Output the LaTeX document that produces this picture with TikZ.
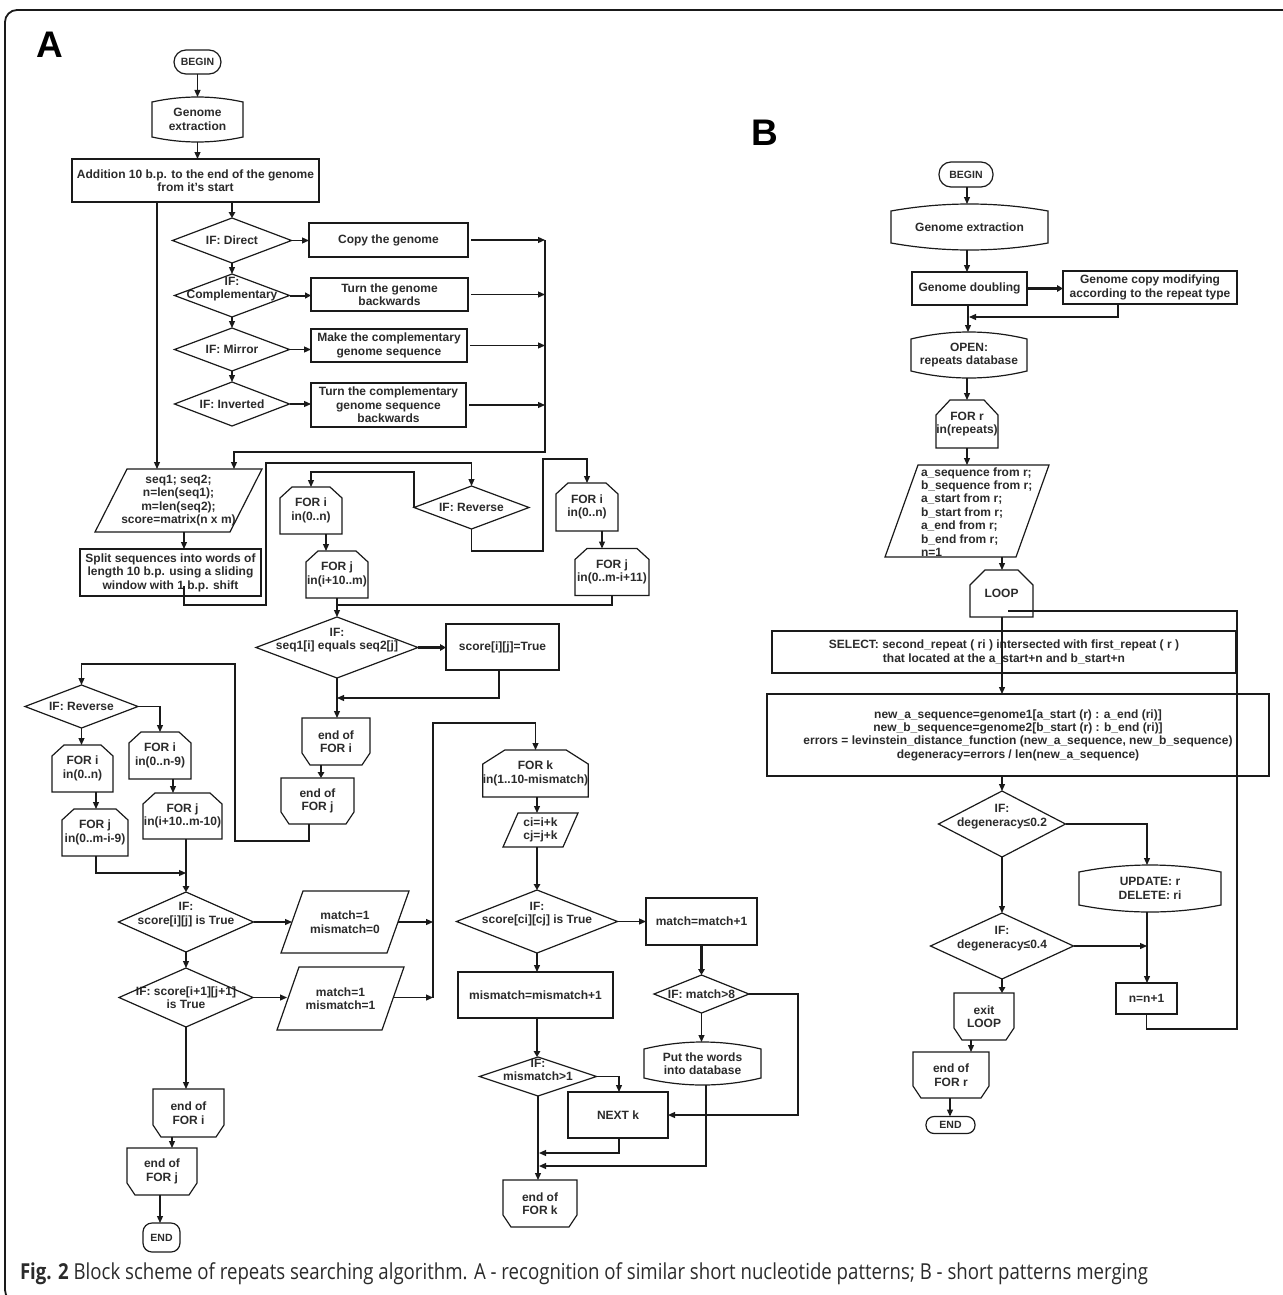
\documentclass[tikz,border=0pt]{standalone}
\usepackage{fontspec}
\setmainfont{Liberation Sans}
\newfontfamily\capfont{Open Sans}
\usepackage{graphicx}
\usetikzlibrary{arrows.meta,calc}
\definecolor{txt}{HTML}{2B2B2B}
\definecolor{lnc}{HTML}{1A1A1A}
\newcommand\shpDia[1]{\draw[shp] (#1.west) -- (#1.north) -- (#1.east) -- (#1.south) -- cycle;}
\newcommand\shpPara[2]{\draw[shp] (#1.south west) -- ([xshift=#2pt]#1.north west) -- (#1.north east) -- ([xshift=-#2pt]#1.south east) -- cycle;}
\newcommand\shpLoopT[3]{\draw[shp] (#1.south west) -- ([yshift=-#3pt]#1.north west) -- ([xshift=#2pt]#1.north west) -- ([xshift=-#2pt]#1.north east) -- ([yshift=-#3pt]#1.north east) -- (#1.south east) -- cycle;}
\newcommand\shpLoopB[3]{\draw[shp] (#1.north west) -- ([yshift=#3pt]#1.south west) -- ([xshift=#2pt]#1.south west) -- ([xshift=-#2pt]#1.south east) -- ([yshift=#3pt]#1.south east) -- (#1.north east) -- cycle;}
\newcommand\shpDisp[2]{\draw[shp] ([yshift=-#2pt]#1.north west) .. controls ($(#1.north west)!1/3!(#1.north east)+(0,#2/3)$) and ($(#1.north west)!2/3!(#1.north east)+(0,#2/3)$) .. ([yshift=-#2pt]#1.north east) -- ([yshift=#2pt]#1.south east) .. controls ($(#1.south west)!2/3!(#1.south east)+(0,-#2/3)$) and ($(#1.south west)!1/3!(#1.south east)+(0,-#2/3)$) .. ([yshift=#2pt]#1.south west) -- cycle;}
\begin{document}
\begin{tikzpicture}[x=1pt,y=1pt,
  every node/.style={inner sep=0pt, outer sep=0pt, text=txt, align=center, font=\fontsize{12}{13.5}\selectfont\bfseries},
  shp/.style={draw=lnc, line width=1.2pt, line join=miter},
  ln/.style={draw=lnc, line width=1.2pt},
  ar/.style={ln, -{Triangle[length=7pt,width=6pt]}},
  tar/.style={draw=lnc, line width=2.4pt, -{Triangle[length=6pt,width=6.5pt]}},
  rbox/.style={draw=lnc, line width=1.2pt},
  pill/.style={draw=lnc, line width=1.2pt, rounded corners=#1pt, font=\fontsize{10.5}{12}\selectfont\bfseries},
  sz/.style 2 args={minimum width=#1pt, minimum height=#2pt},
  liftx/.style={text depth=#1pt},
  big/.style={font=\fontsize{37}{37}\selectfont\bfseries, text=black}]
\useasboundingbox (0,0) rectangle (1282,-1295);
\fill[white] (0,0) rectangle (1282,-1295);
\draw[draw=lnc, line width=1.8pt, rounded corners=12pt] (1290,-10) -- (5,-10) -- (5,-1302) -- (40,-1302);

% ---------------- Panel A ----------------
\node[big] (lblA) at (50,-45) {A};
\node[pill=12, sz={47}{24}] (beginA) at (197.5,-62) {BEGIN};
\node[sz={91}{45}] (genA) at (197.5,-119.5) {Genome\\extraction};
\node[rbox, sz={247}{43}] (add) at (195.5,-180.5) {Addition 10 b.p. to the end of the genome\\from it's start};
\node[sz={119}{45}] (ifD) at (232,-240.5) {IF: Direct};
\node[rbox, sz={159}{34}] (copy) at (388.5,-240) {Copy the genome};
\node[sz={115}{43}, liftx=15] (ifC) at (232,-295.5) {IF:\\Complementary};
\node[rbox, sz={157}{33}] (turn) at (389.5,-294.5) {Turn the genome\\backwards};
\node[sz={115}{43}] (ifM) at (232,-349.5) {IF: Mirror};
\node[rbox, sz={156}{33}] (make) at (389,-345.5) {Make the complementary\\genome sequence};
\node[sz={115}{44}] (ifI) at (232,-404) {IF: Inverted};
\node[rbox, sz={155}{44}] (turnc) at (388.5,-405) {Turn the complementary\\genome sequence\\backwards};
\coordinate (col) at (545,-452);

\node[sz={167}{63}] (seq) at (178.5,-500.5) {seq1; seq2;\\n=len(seq1);\\m=len(seq2);\\score=matrix(n x m)};
\node[rbox, sz={181}{47}] (split) at (170.5,-572.5) {Split sequences into words of\\length 10 b.p. using a sliding\\window with 1 b.p. shift};
\coordinate (s1) at (184,-586);

\node[sz={115}{43}] (ifRT) at (471.5,-507.5) {IF: Reverse};
\node[sz={62}{47}] (fi1) at (311,-510.5) {FOR i\\in(0..n)};
\node[sz={62}{47}] (fj1) at (337,-574.5) {FOR j\\in(i+10..m)};
\node[sz={62}{48}] (fi2) at (587,-507) {FOR i\\in(0..n)};
\node[sz={74}{47}] (fj2) at (612,-572) {FOR j\\in(0..m-i+11)};

\node[sz={162}{61}, liftx=17] (ifS) at (337,-647.5) {IF:\\seq1[i] equals seq2[j]};
\node[rbox, sz={113}{46}] (scT) at (502.5,-647) {score[i][j]=True};
\node[sz={68}{47}] (efi1) at (336,-741.5) {end of\\FOR i};
\node[sz={73}{46}] (efj1) at (317.5,-801) {end of\\FOR j};

\node[sz={113}{43}] (ifRL) at (81.5,-706.5) {IF: Reverse};
\node[sz={61}{47}] (fiL) at (82.5,-768.5) {FOR i\\in(0..n)};
\node[sz={66}{47}] (fjL) at (95,-832.5) {FOR j\\in(0..m-i-9)};
\node[sz={62}{47}] (fiM) at (160,-755.5) {FOR i\\in(0..n-9)};
\node[sz={79}{46}] (fjM) at (182.5,-816) {FOR j\\in(i+10..m-10)};

\node[sz={135}{60}, liftx=17] (ifSc1) at (186,-922) {IF:\\score[i][j] is True};
\node[sz={128}{62}] (m10) at (345,-922) {match=1\\mismatch=0};
\node[sz={134}{59}] (ifSc2) at (186,-997.5) {IF: score[i+1][j+1]\\is True};
\node[sz={127}{63}] (m11) at (340.5,-998.5) {match=1\\mismatch=1};
\node[sz={71}{48}] (efi2) at (188.5,-1113) {end of\\FOR i};
\node[sz={70}{47}] (efj2) at (162,-1171.5) {end of\\FOR j};
\node[pill=9, sz={37}{29}] (endA) at (161.5,-1237.5) {END};

\node[sz={103}{47}] (fk) at (535.5,-773.5) {FOR k\\in(1..10-mismatch)};
\node[sz={75}{34}] (cc) at (540.5,-830) {ci=i+k\\cj=j+k};
\node[sz={161}{63}, liftx=17] (ifCi) at (537,-921.5) {IF:\\score[ci][cj] is True};
\node[rbox, sz={111}{47}] (mp) at (701.5,-921.5) {match=match+1};
\node[rbox, sz={155}{46}] (mm) at (535.5,-995) {mismatch=mismatch+1};
\node[sz={95}{38}] (if8) at (701.5,-994) {IF: match>8};
\node[sz={117}{39}, liftx=13] (ifm1) at (538,-1076.5) {IF:\\mismatch>1};
\node[rbox, sz={100}{46}] (nk) at (618,-1115) {NEXT k};
\node[sz={117}{43}] (put) at (702.5,-1063.5) {Put the words\\into database};
\node[sz={74}{47}] (efk) at (540,-1203.5) {end of\\FOR k};

% ---------------- Panel B ----------------
\node[big] (lblB) at (765,-133) {B};
\node[pill=12, sz={54}{25}] (bB) at (966,-174.5) {BEGIN};
\node[sz={157}{46}] (gB) at (969.5,-227) {Genome extraction};
\node[rbox, sz={115}{33}] (dbl) at (969.5,-288.5) {Genome doubling};
\node[rbox, sz={174}{33}] (gc) at (1150,-287.5) {Genome copy modifying\\according to the repeat type};
\node[sz={116}{46}] (odb) at (969,-355) {OPEN:\\repeats database};
\node[sz={62}{48}] (fr) at (967,-424) {FOR r\\in(repeats)};
\node[sz={164}{92}] (pB) at (967,-511) {};
\node[align=left, anchor=west, font=\fontsize{12}{13.4}\selectfont\bfseries] (pBt) at (921,-512) {a\_sequence from r;\\b\_sequence from r;\\a\_start from r;\\b\_start from r;\\a\_end from r;\\b\_end from r;\\n=1};
\node[sz={63}{47}] (lp) at (1001.5,-593.5) {LOOP};
\node[rbox, sz={464}{42}] (sel) at (1004,-652) {SELECT: second\_repeat ( ri ) intersected with first\_repeat ( r )\\that located at the a\_start+n and b\_start+n};
\node[rbox, sz={502}{82}, font=\fontsize{12}{13.3}\selectfont\bfseries] (bigb) at (1018,-735) {new\_a\_sequence=genome1[a\_start (r) : a\_end (ri)]\\new\_b\_sequence=genome2[b\_start (r) : b\_end (ri)]\\errors = levinstein\_distance\_function (new\_a\_sequence, new\_b\_sequence)\\degeneracy=errors / len(new\_a\_sequence)};
\node[sz={127}{66}, liftx=17] (d2) at (1002,-824) {IF:\\degeneracy≤0.2};
\node[sz={142}{47}] (upd) at (1150,-888.5) {UPDATE: r\\DELETE: ri};
\node[sz={143}{66}, liftx=17] (d4) at (1002,-946) {IF:\\degeneracy≤0.4};
\node[rbox, sz={61}{31}] (nn) at (1146.5,-998.5) {n=n+1};
\node[sz={60}{47}] (ex) at (984,-1016.5) {exit\\LOOP};
\node[sz={76}{46}] (efr) at (951,-1075) {end of\\FOR r};
\node[pill=8, sz={49}{17}] (endB) at (950.5,-1125) {END};
\coordinate (lpin) at (1008,-611);

% caption
\node[anchor=base west, font=\capfont\fontsize{22}{26}\selectfont] (cap) at (20,-1279) {\resizebox{1128pt}{\height}{\textbf{Fig. 2} Block scheme of repeats searching algorithm. A - recognition of similar short nucleotide patterns; B - short patterns merging}};

% ---------------- outlines ----------------
\foreach \n in {ifD,ifC,ifM,ifI,ifRT,ifS,ifRL,ifSc1,ifSc2,ifCi,if8,ifm1,d2,d4} {\shpDia{\n}}
\foreach \n in {fi1,fj1,fi2,fj2,fiL,fjL,fiM,fjM} {\shpLoopT{\n}{12}{11}}
\shpLoopT{fk}{22}{14}
\shpLoopT{fr}{14}{15}
\shpLoopT{lp}{15}{15}
\foreach \n in {efi1,efj1,efi2,efj2,efk,ex,efr} {\shpLoopB{\n}{8}{12}}
\shpPara{seq}{32}
\shpPara{m10}{22}
\shpPara{m11}{22}
\shpPara{cc}{15}
\shpPara{pB}{33}
\shpDisp{genA}{5}
\shpDisp{gB}{7}
\shpDisp{odb}{7}
\shpDisp{upd}{7}
\shpDisp{put}{7}

% ---------------- connectors A ----------------
\draw[ar] (beginA.south) -- (genA.north);
\draw[ar] (genA.south) -- (genA.south |- add.north);
\draw[tar] (ifD.north |- add.south) -- (ifD.north);
\draw[ar] (ifD.south) -- (ifC.north);
\draw[ar] (ifC.south) -- (ifM.north);
\draw[ar] (ifM.south) -- (ifI.north);
\draw[ar] (ifD.east) -- (ifD.east -| copy.west);
\draw[draw=lnc, line width=2pt, -{Triangle[length=6pt,width=6pt]}] (ifC.east) -- (ifC.east -| turn.west);
\draw[ar] (ifM.east) -- (ifM.east -| make.west);
\draw[ar] (ifI.east) -- (ifI.east -| turnc.west);
\draw[ar] ([xshift=3pt]copy.east) -- (copy.east -| col);
\draw[ar] ([xshift=3pt]turn.east) -- (turn.east -| col);
\draw[ar] ([xshift=3pt]make.east) -- (make.east -| col);
\draw[ar] ([xshift=3pt]turnc.east) -- (turnc.east -| col);
\draw[ar] (col |- copy.east) -- (col) -| ([xshift=55.5pt]seq.north);
\draw[ar] ([xshift=-38.5pt]add.south) -- ([xshift=-38.5pt]add.south |- seq.north);
\draw[ar] ([xshift=5.5pt]seq.south) -- ([xshift=5.5pt]seq.south |- split.north);
\draw[ar] (s1) -- (184,-605) -- (266,-605) -- (266,-463) -- (ifRT.north |- 0,-463) -- (ifRT.north);
\draw[ar] (ifRT.west) -- (ifRT.west |- 0,-472) -- (fi1.north |- 0,-472) -- (fi1.north);
\draw[ar] (fi1.south -| 326,0) -- (fj1.north -| 326,0);
\draw[ar] (ifRT.south) -- (ifRT.south |- 0,-551) -- (543,-551) -- (543,-459) -- (fi2.north |- 0,-459) -- (fi2.north);
\draw[ar] (fi2.south -| 602,0) -- (fj2.north -| 602,0);
\draw[ln] (fj2.south) -- (fj2.south |- 0,-605) -- (fj1.south |- 0,-605);
\draw[ar] (fj1.south) -- (ifS.north);
\draw[tar] (ifS.east) -- (ifS.east -| scT.west);
\draw[ar] (scT.south -| 499,0) -- (499,-698) -- (ifS.south |- 0,-698);
\draw[ar] (ifS.south) -- (ifS.south |- efi1.north);
\draw[tar] (efi1.south -| 321,0) -- (efj1.north -| 321,0);
\draw[ar] (efj1.south -| 309,0) -- (309,-841) -- (235,-841) -- (235,-664) -- (ifRL.north |- 0,-664) -- (ifRL.north);
\draw[ar] (ifRL.south) -- (ifRL.south |- fiL.north);
\draw[ar] (fiL.south -| 96,0) -- (fjL.north -| 96,0);
\draw[ar] (ifRL.east) -- (fiM.north |- ifRL.east) -- (fiM.north);
\draw[ar] (fiM.south -| 173,0) -- (fjM.north -| 173,0);
\draw[tar] (fjM.south -| 186,0) -- (ifSc1.north);
\draw[ar] (fjL.south -| 96,0) -- (96,-873) -- (186,-873);
\draw[ar] (ifSc1.east) -- ([xshift=11pt]m10.west);
\draw[ar] ([xshift=-11pt]m10.east) -- (433,-922);
\draw[ar] (ifSc1.south) -- (ifSc2.north);
\draw[ar] (ifSc2.east) -- ([xshift=10pt]m11.west |- ifSc2.east);
\draw[ar] ([xshift=-10pt]m11.east |- ifSc2.east) -- (433,-997.5);
\draw[ar] (433,-997.5) -- (433,-723) -- (fk.north |- 0,-723) -- (fk.north);
\draw[ar] (ifSc2.south) -- (ifSc2.south |- efi2.north);
\draw[ar] (efi2.south -| 172,0) -- (efj2.north -| 172,0);
\draw[ar] (efj2.south -| 160,0) -- (endA.north -| 160,0);

\draw[ar] (fk.south -| 537,0) -- (cc.north -| 537,0);
\draw[tar] (cc.south -| 537,0) -- (ifCi.north);
\draw[ar] (ifCi.east) -- (ifCi.east -| mp.west);
\draw[ar] (ifCi.south) -- (ifCi.south |- mm.north);
\draw[tar] (mp.south) -- (if8.north);
\draw[tar] (mm.south -| 537,0) -- (ifm1.north -| 537,0);
\draw[ar] (ifm1.east) -- (619,-1076.5) -- (nk.north -| 619,0);
\draw[ar] (if8.east) -- (798,-994) -- (798,-1115) -- (nk.east);
\draw[ar] (if8.south) -- (if8.south |- put.north);
\draw[ar] (put.south -| 706,0) -- (706,-1166) -- (539,-1166);
\draw[ar] (nk.south -| 619,0) -- (619,-1153) -- (539,-1153);
\draw[ar] (ifm1.south) -- (ifm1.south |- efk.north);

% ---------------- connectors B ----------------
\draw[ar] (bB.south -| 967,0) -- (gB.north -| 967,0);
\draw[ar] (gB.south -| 967,0) -- (dbl.north -| 967,0);
\draw[tar] (dbl.east) -- (dbl.east -| gc.west);
\draw[ar] (gc.south -| 1118,0) -- (1118,-317) -- (969,-317);
\draw[ar] (dbl.south -| 968,0) -- (odb.north -| 968,0);
\draw[ar] (odb.south -| 967,0) -- (fr.north -| 967,0);
\draw[ar] (fr.south -| 967,0) -- (pB.north -| 967,0);
\draw[ar] (pB.south -| 1002,0) -- (lp.north -| 1002,0);
\draw[ar] (lp.south -| 1002,0) -- (bigb.north -| 1002,0);
\draw[ln] (nn.south) -- (nn.south |- 0,-1029) -- (1237,-1029) -- (1237,-611) -- (lpin);
\draw[ar] (bigb.south -| 1002,0) -- (d2.north);
\draw[ar] (d2.east) -- (1147,-824) -- (upd.north -| 1147,0);
\draw[ar] (upd.south -| 1147,0) -- (nn.north -| 1147,0);
\draw[ar] (d2.south) -- (d4.north);
\draw[ar] (d4.east) -- (1147,-946);
\draw[tar] (d4.south) -- (d4.south |- ex.north);
\draw[ar] (ex.south -| 971,0) -- (efr.north -| 971,0);
\draw[ar] (efr.south -| 950,0) -- (endB.north -| 950,0);
\end{tikzpicture}
\end{document}
